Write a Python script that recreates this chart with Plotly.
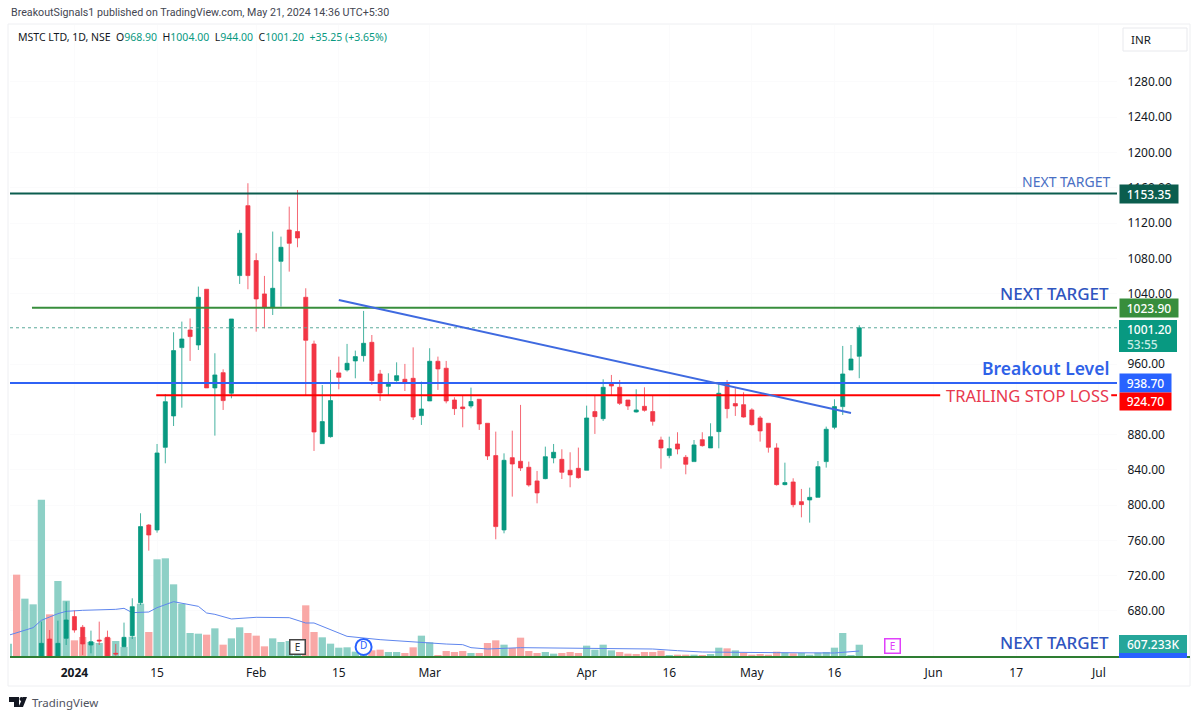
import plotly.graph_objects as go

W, H = 1200, 718

# ---- data ----
opens = [612,610,606,608,615,648.2,615,649,673.6,661.5,641.4,647,650.1,632,639.5,652,689.4,777.5,771.9,865.6,
         901.2,978.7,998.7,981.7,1044.9,933,950.3,926.9,1060.4,1139.7,1077.4,1039.6,1024.4,1076.6,1112.1,1110.3,1035.8,982.8,869.8,877.7,
         950,953.4,963.6,969.6,984.7,948.8,934.8,941.3,942.8,943.9,901.6,918.2,963.2,955.3,919.3,911.4,912.5,920.1,892.9,856.2,
         771.9,853.9,849.8,843,827.5,830.1,853.6,852,839.6,841.8,839.6,906.1,898.1,938.2,933.7,919.3,905.7,912.1,906.1,873.9,
         856.2,869.4,854.3,849.4,874.3,864.9,883.4,939,915.2,914,908,898.9,892.9,864.9,823.3,826.3,804,805.9,808.9,849.4,
         888.3,911.8,953.3,968.9]
highs = [618,616,614,615,667.9,658.4,669,690.6,680.4,664.1,657.7,667.9,657.7,642.6,666.8,694.4,790.8,778.5,869.4,926.1,
         996.1,1008.2,1011.8,1047.9,1044.9,972.3,954.1,1011.2,1112.2,1165.1,1085.7,1060,1110.3,1104.6,1138.6,1157.5,1046,986.6,936.3,953.4,
         968.5,982.9,975.3,1020.3,993,953.4,949.6,962,960.2,979,940.1,978,968.5,963.6,922.4,925,933.3,920.1,893,883.4,
         858.8,884.5,913.7,849.4,838.8,866.4,869.4,863.4,860,865.3,912.9,925,942.8,947.7,942,919.3,931.4,933.7,923.9,877.7,
         877.7,882.7,856.9,873.9,882.7,892.9,937.5,942,932.6,928,909.9,901.2,892.9,870.2,848.2,830.5,818.4,819.9,850.1,889.1,
         920.1,980.6,981.7,1004]
lows = [606,603,601,603,612,610,610,641.4,655.4,630.1,632,641.4,615,629.3,639,648.2,686.8,748.4,768.8,847.5,
        889.8,910.6,963.6,976,933,878.9,908,921.2,1050.9,1044.9,996.8,1000.6,1015.7,1025.2,1064.9,1092.5,925,861.5,869.8,876.6,
        931.4,951.5,943.9,962.8,936.3,918.2,923.9,940,929.5,896.6,891,918.2,930.7,915.5,902.3,888.3,909.9,885.3,851.3,761.3,
        768.1,809.7,838.8,821,802.1,829.4,847.5,829.7,820.3,830.1,839.6,880.8,895.5,925,913.6,908,905,906.1,890.2,841.4,
        853.2,857.7,835,849.4,866.4,864.9,864.5,898.5,901.2,899.3,890.2,872.1,859.6,822.2,822.5,797.6,786.2,780.2,808.9,842.6,
        886.1,902.3,953.3,944]
closes = [610,606,608,612,643.3,618,643.3,669.8,658.4,642.6,645.2,646,620,631.2,650.1,684.9,775.7,766.2,859.2,917.4,
          975.3,988.5,991.2,1035.8,933,947.7,918.6,1011.2,1108.4,1060.4,1033.9,1024.4,1046,1092.5,1097,1103.1,987,883,894.8,918.6,
          945,960.9,968.5,983.6,941.3,927.3,939,946.9,939,900,909.1,963.2,954.5,918.2,909.5,909.5,917.5,892.1,855.8,775.7,
          850.9,846.7,842.2,822.9,813.9,855,860,837.3,834.3,831.2,898.9,900.4,933.7,935.2,915.5,912.5,908,907.6,895.1,864.9,
          864.1,863.7,846.4,868.3,867.5,877.7,926.9,909.5,912.5,900,891.3,884.2,865.6,823.3,825.6,800.6,800.6,808.9,843.7,886.1,
          911.8,948.8,965.8,1001.2]
volumes = [659,4068,2882,2602,7774,2108,3755,2783,823,988,741,692,950,790,500,1000,2635,1235,4826,4875,
           3590,2635,1186,1153,1103,1416,609,922,1466,1186,1054,527,922,741,790,700,2553,1235,972,659,
           461,478,264,200,330,362,247,247,198,478,1054,725,50,296,247,296,198,198,692,823,
           609,445,955,296,198,247,165,198,247,198,560,362,609,329,247,165,148,247,247,313,
           82,115,115,115,82,148,461,428,329,198,115,148,115,264,214,181,198,115,214,247,
           461,1186,82,607.233]
vol_up = [1,0,1,1,1,0,1,1,0,0,1,1,0,1,1,1,1,0,1,1,
          1,1,1,1,0,1,0,1,1,0,0,0,1,1,1,1,0,0,1,1,
          1,1,1,1,0,0,1,1,0,0,1,1,0,0,0,0,1,0,0,0,
          1,0,0,0,0,1,1,0,0,0,1,1,1,1,0,0,0,0,0,0,
          1,0,0,1,0,1,1,0,1,0,0,0,0,0,1,0,1,1,1,1,
          1,1,1,1]
vol_ma_idx = [0,3,4,6,7,9,13,14,15,17,18,20,23,24,25,27,30,34,36,37,41,43,45,53,55,56,58,62,70,78,81,84,93,100,103]
vol_ma_val = [1070,1449,1812,2141,2256,2306,2355,2405,2190,2223,2437,2734,2503,2174,2108,1878,1960,1943,1680,1680,
              1021,939,856,640,609,461,395,461,412,395,313,247,214,198,296]

price_ticks = [680,720,760,800,840,880,920,960,1000,1040,1080,1120,1160,1200,1240,1280]
hidden_price_ticks = [920,1000]
time_tick_idx = [8,18,30,40,51,70,80,90,100,112,122,132]
time_tick_txt = ["<b>2024</b>","15","Feb","15","Mar","Apr","16","May","16","Jun","17","Jul"]

level_target_hi = 1153.35
level_target_lo = 1023.90
level_breakout = 938.70
level_stop = 924.70
last_price = 1001.20
last_volume = "607.233K"
trend_x = [40, 102]
trend_y = [1032.7, 904.6]

# ---- layout geometry ----
L, R, T, B = 10, 1117, 25, 657
X_RANGE = [0.2, 134.2]
Y_RANGE = [627.8, 1344.6]
VOL_RANGE = [0, 31221]

def px(x): return x / W
def py(y): return 1 - y / H

TEAL, RED = "#089981", "#f23645"
BLUE = "#2962ff"
FONT = "Noto Sans"

n = len(closes)
xs = list(range(n))
fig = go.Figure()

fig.add_trace(go.Bar(x=xs, y=volumes, yaxis="y", xaxis="x",
                     marker=dict(color=["#8dd0c6" if u else "#f9a8a6" for u in vol_up], line_width=0),
                     hoverinfo="skip"))
fig.add_trace(go.Scatter(x=vol_ma_idx, y=vol_ma_val, yaxis="y", mode="lines",
                         line=dict(color="#5f86ee", width=1), hoverinfo="skip"))
fig.add_trace(go.Candlestick(x=xs, open=opens, high=highs, low=lows, close=closes, yaxis="y2",
                             increasing=dict(line=dict(color="rgba(8,153,129,0.75)", width=1), fillcolor=TEAL),
                             decreasing=dict(line=dict(color="rgba(242,54,69,0.75)", width=1), fillcolor=RED),
                             whiskerwidth=0, hoverinfo="skip"))

def hline(x0, x1, y, color, width, dash="solid"):
    fig.add_trace(go.Scatter(x=[x0, x1], y=[y, y], yaxis="y2", mode="lines",
                             line=dict(color=color, width=width, dash=dash), hoverinfo="skip"))

hline(X_RANGE[0], X_RANGE[1], last_price, "#5aa99b", 1, "dot")
hline(X_RANGE[0], X_RANGE[1], level_target_hi, "#0b5d4e", 2)
hline(2.86, X_RANGE[1], level_target_lo, "#388e3c", 2)
hline(X_RANGE[0], X_RANGE[1], level_breakout, "#2f62f5", 2)
hline(17.9, 112.8, level_stop, "#ff0000", 2)
hline(133.5, X_RANGE[1], level_stop, "#ff0000", 2)
fig.add_trace(go.Scatter(x=trend_x, y=trend_y, yaxis="y2", mode="lines",
                         line=dict(color="#3f6ae0", width=2), hoverinfo="skip"))
fig.add_trace(go.Scatter(x=[43], y=[639.2], yaxis="y2", mode="markers+text", text=["D"],
                         textposition="middle center", textfont=dict(color=BLUE, size=10, family=FONT),
                         marker=dict(size=16, color="white", line=dict(color=BLUE, width=2)), hoverinfo="skip"))

ann = []
def text(x, y, s, size, color, xanchor="left", weight=None, family=FONT):
    f = dict(size=size, color=color, family=family)
    if weight:
        f["weight"] = weight
    ann.append(dict(x=px(x), y=py(y), xref="paper", yref="paper", text=s, showarrow=False,
                    xanchor=xanchor, yanchor="middle", font=f))

def tag(value, s, bg, w=51, h=18, size=12, yshift=0):
    ann.append(dict(x=px(1119), y=value, xref="paper", yref="y2", text=s, showarrow=False,
                    xanchor="left", yanchor="middle", width=w, height=h, bgcolor=bg, align="center", valign="middle",
                    borderpad=0, yshift=yshift, font=dict(size=size, color="white", family=FONT, weight=500)))

text(9, 13, "BreakoutSignals1 published on TradingView.com, May 21, 2024 14:36 UTC+5:30", 10.7, "#434651", family="Roboto")
g = lambda t: f'<span style="color:{TEAL}">{t}</span>'
text(15.5, 37, "MSTC LTD, 1D, NSE  O" + g("968.90") + "  H" + g("1004.00") + "  L" + g("944.00") + "  C" + g("1001.20")
     + "  " + g("+35.25 (+3.65%)"), 10.5, "#131722")
text(30, 702, "TradingView", 11.5, "#50535e")

text(1112, 182, "NEXT TARGET", 14, "#4a6fc4", "right")
text(1111, 293, "NEXT TARGET", 17, "#2f55c0", "right", 500)
text(1111, 368, "Breakout Level", 17.5, "#2f62e8", "right", 600)
text(1111, 395, "TRAILING STOP LOSS", 16.5, "#e8394e", "right")
text(1111, 642, "NEXT TARGET", 17, "#2f55c0", "right", 500)

tag(level_target_hi, "1153.35", "#0b5d4e", w=58)
tag(level_target_lo, "1023.90", "#388e3c", w=58)
tag(level_breakout, "938.70", BLUE)
tag(level_stop, "924.70", "#ff0000", h=17, yshift=-6)

text(1125, 329, "1001.20", 12, "white", weight=500)
text(1125, 344, "53:55", 12, "#c5ece4", weight=500)
text(1125, 644, last_volume, 12, "white", weight=500)
text(1129, 39.5, "INR", 11.5, "#131722")

ann.append(dict(x=35, y=639.2, xref="x", yref="y2", showarrow=False, text="E", width=14, height=13, bgcolor="white",
                bordercolor="#444", borderwidth=1.5, align="center", valign="middle", borderpad=0,
                font=dict(size=10, color="#333", family=FONT)))
ann.append(dict(x=107, y=640, xref="x", yref="y2", showarrow=False, text="E", width=14, height=13, bgcolor="white",
                bordercolor="#e040fb", borderwidth=1.5, align="center", valign="middle", borderpad=0,
                font=dict(size=10, color="#e040fb", family=FONT)))

def path(*pts):
    return "M " + " L ".join(f"{px(a):.5f} {py(b):.5f}" for a, b in pts) + " Z"

def rect(x0, y0, x1, y1, fill, line=None):
    return dict(type="rect", xref="paper", yref="paper", x0=px(x0), x1=px(x1), y0=py(y0), y1=py(y1),
                fillcolor=fill, line=dict(color=line or "rgba(0,0,0,0)", width=1 if line else 0))

shapes = [
    dict(type="rect", xref="paper", yref="paper", x0=px(8), x1=px(1190), y0=py(24), y1=py(686),
         line=dict(color="#eeeff2", width=1), layer="below"),
    dict(type="line", xref="paper", yref="paper", x0=px(L), x1=px(1190), y0=py(657), y1=py(657),
         line=dict(color="#2e7d32", width=2)),
    rect(1119, 320, 1177, 352, TEAL),
    rect(1119, 635, 1187, 653, "#26a69a"),
    rect(1119, 653, 1187, 658, BLUE),
    rect(1123, 28, 1187, 51, "white", "#e8e9ed"),
    dict(type="path", xref="paper", yref="paper", path=path((9, 697), (19, 697), (19, 707), (14, 707), (14, 702), (9, 702)),
         fillcolor="#131722", line_width=0),
    dict(type="circle", xref="paper", yref="paper", x0=px(19.5), x1=px(23.5), y0=py(697), y1=py(701),
         fillcolor="#131722", line_width=0),
    dict(type="path", xref="paper", yref="paper", path=path((23, 697), (27, 697), (23, 707), (18.5, 707)),
         fillcolor="#131722", line_width=0),
]

fig.update_layout(
    width=W, height=H, autosize=False, margin=dict(l=0, r=0, t=0, b=0),
    paper_bgcolor="white", plot_bgcolor="white", showlegend=False, bargap=0.12,
    annotations=ann, shapes=shapes,
    xaxis=dict(domain=[px(L), px(R)], range=X_RANGE, type="linear", rangeslider=dict(visible=False),
               tickvals=time_tick_idx, ticktext=time_tick_txt, ticks="outside", ticklen=5, tickcolor="rgba(0,0,0,0)",
               tickfont=dict(size=12, color="#131722", family=FONT), showgrid=True, gridcolor="#fbfbfc",
               zeroline=False, showline=False),
    yaxis=dict(domain=[py(B), py(T)], range=VOL_RANGE, visible=False, showgrid=False, zeroline=False),
    yaxis2=dict(domain=[py(B), py(T)], range=Y_RANGE, overlaying="y", side="right", anchor="x",
                tickvals=[t for t in price_ticks if t not in hidden_price_ticks],
                ticktext=[f"{t:.2f}" for t in price_ticks if t not in hidden_price_ticks],
                ticks="outside", ticklen=7, tickcolor="rgba(0,0,0,0)",
                tickfont=dict(size=12, color="#131722", family=FONT),
                showgrid=True, gridcolor="#fbfbfc", zeroline=False, showline=False),
)

fig.write_html("out.html", config=dict(displayModeBar=False),
               post_script="document.body.style.margin='0';document.body.style.overflow='hidden';")
